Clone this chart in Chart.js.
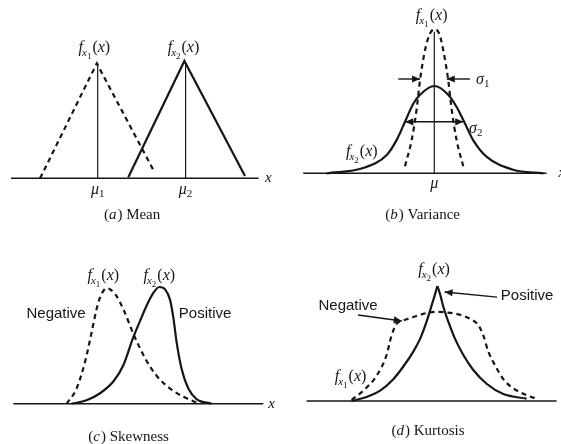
<!DOCTYPE html>
<html>
<head>
<meta charset="utf-8">
<script src="https://cdn.jsdelivr.net/npm/chart.js@4.4.1/dist/chart.umd.min.js"></script>
<style>
  html, body { margin: 0; padding: 0; background: #fff; }
  #wrap { position: relative; width: 561px; height: 444px; overflow: hidden; }
  #wrap canvas { position: absolute; }
</style>
</head>
<body>
<div id="wrap">
  <canvas id="pa" width="280" height="222" style="left:0px;top:0px"></canvas>
  <canvas id="pb" width="281" height="222" style="left:280px;top:0px"></canvas>
  <canvas id="pc" width="280" height="222" style="left:0px;top:222px"></canvas>
  <canvas id="pd" width="281" height="222" style="left:280px;top:222px"></canvas>
</div>
<script>
// ── (a) Mean : deux densités triangulaires ───────────────────────────────────
const meanX1 = [0.08, 1.97, 3.86];
const meanY1 = [0, 1.0, 0.07];
const meanX2 = [3.02, 4.89, 6.91];
const meanY2 = [0.01, 1.02, 0.02];
const meanMu  = [2.0, 4.93];
const meanTop = [1.0, 0.99];
const meanAxis = [-0.89, 7.36];

// ── (b) Variance ─────────────────────────────────────────────────────────────
const varNarrowX = [-1.01, -0.78, -0.61, -0.49, -0.32, -0.15, 0, 0.17, 0.31, 0.48, 0.6, 0.77, 1.0];
const varNarrowY = [0.08, 0.38, 0.73, 1.07, 1.41, 1.6, 1.65, 1.6, 1.41, 1.07, 0.73, 0.38, 0.08];
const varWideX = [-3.71, -2.45, -1.64, -1.30, -1.01, -0.72, -0.49, 0, 0.48, 0.77, 1.03, 1.34, 1.80, 2.72, 3.76];
const varWideY = [0, 0.06, 0.21, 0.38, 0.59, 0.80, 0.90, 1.0, 0.90, 0.76, 0.59, 0.38, 0.19, 0.04, 0];
const varStem = 1.62;
const varAxis = [-4.52, 3.87];

// ── (c) Skewness ─────────────────────────────────────────────────────────────
const skewNegX = [2.13, 2.53, 2.87, 3.13, 3.33, 3.47, 3.73, 4.07, 4.4, 4.8, 5.27, 5.73, 6.27, 6.8, 7.33];
const skewNegY = [0, 0.13, 0.36, 0.61, 0.81, 0.91, 0.99, 0.94, 0.81, 0.6, 0.39, 0.24, 0.13, 0.06, 0.01];
const skewPosX = [2.33, 2.93, 3.47, 4.0, 4.4, 4.8, 5.07, 5.33, 5.6, 5.84, 6.07, 6.27, 6.4, 6.53, 6.73, 7.0, 7.33, 7.93];
const skewPosY = [0, 0.03, 0.09, 0.19, 0.33, 0.57, 0.71, 0.84, 0.95, 1.0, 0.98, 0.89, 0.74, 0.53, 0.3, 0.13, 0.04, 0];
const skewAxis = [0, 10.0];

// ── (d) Kurtosis ─────────────────────────────────────────────────────────────
const kurtPosX = [-3.43, -2.83, -2.29, -1.76, -1.36, -0.96, -0.69, -0.43, -0.23, -0.09, 0, 0.11, 0.24, 0.44, 0.71, 1.04, 1.44, 1.97, 2.64, 3.57];
const kurtPosY = [0, 0.035, 0.09, 0.19, 0.3, 0.43, 0.54, 0.69, 0.83, 0.93, 1.0, 0.93, 0.82, 0.69, 0.54, 0.4, 0.27, 0.15, 0.06, 0.02];
const kurtNegX = [-3.43, -2.96, -2.43, -2.03, -1.83, -1.63, -1.36, -0.96, -0.43, -0.03, 0.37, 0.91, 1.31, 1.64, 1.84, 2.04, 2.31, 2.64, 3.04, 3.57, 3.97];
const kurtNegY = [0.01, 0.09, 0.22, 0.4, 0.57, 0.67, 0.7, 0.73, 0.765, 0.775, 0.77, 0.75, 0.715, 0.66, 0.57, 0.43, 0.31, 0.19, 0.11, 0.05, 0.02];
const kurtAxis = [-5.23, 4.77];

// ── Style ────────────────────────────────────────────────────────────────────
const INK   = '#161616';
const SERIF = '"Liberation Serif", "Times New Roman", serif';
const SANS  = '"Liberation Sans", Arial, sans-serif';

const pts = (xs, ys) => xs.map((x, i) => ({ x, y: ys[i] }));

function solid(data, smooth, w) {
  return { data, borderColor: INK, borderWidth: w || 2.2, pointRadius: 0, tension: 0,
           cubicInterpolationMode: smooth ? 'monotone' : 'default' };
}
function dashed(data, smooth) {
  return Object.assign(solid(data, smooth, 2.2), { borderDash: [5, 4] });
}
function axisLine(range) {
  return solid([{ x: range[0], y: 0 }, { x: range[1], y: 0 }], false, 1.4);
}
function stem(x, top) {
  return solid([{ x, y: 0 }, { x, y: top }], false, 1.2);
}

// ── Texte riche (indices, italiques) ─────────────────────────────────────────
function rich(ctx, segs, px, py, align) {
  let w = 0;
  segs.forEach(s => { ctx.font = s[1]; w += ctx.measureText(s[0]).width; });
  let x = align === 'left' ? px : px - w / 2;
  segs.forEach(s => {
    ctx.font = s[1];
    ctx.fillText(s[0], x, py + 5 + (s[2] || 0));
    x += ctx.measureText(s[0]).width + (s[3] || 0);
  });
}

function arrowHead(ctx, x0, y0, x1, y1) {
  const a = Math.atan2(y1 - y0, x1 - x0), L = 8, H = 3.6;
  ctx.beginPath();
  ctx.moveTo(x1, y1);
  ctx.lineTo(x1 - L * Math.cos(a) + H * Math.sin(a), y1 - L * Math.sin(a) - H * Math.cos(a));
  ctx.lineTo(x1 - L * Math.cos(a) - H * Math.sin(a), y1 - L * Math.sin(a) + H * Math.cos(a));
  ctx.closePath();
  ctx.fill();
}

const notesPlugin = {
  id: 'notes',
  afterDatasetsDraw(chart, args, opts) {
    const { ctx } = chart;
    const sx = v => chart.scales.x.getPixelForValue(v);
    const sy = v => chart.scales.y.getPixelForValue(v);
    ctx.save();
    ctx.fillStyle = INK;
    ctx.strokeStyle = INK;
    ctx.textBaseline = 'alphabetic';
    (opts.notes || []).forEach(n => {
      const px = sx(n.x), py = sy(n.y);
      if (n.kind === 'f') {
        rich(ctx, [
          ['f', `italic 16px ${SERIF}`, 0, -1],
          ['x', `italic 11px ${SERIF}`, 4],
          [n.sub, `9px ${SERIF}`, 7, 1],
          ['(', `16px ${SERIF}`, 0],
          ['x', `italic 16px ${SERIF}`, 0],
          [')', `16px ${SERIF}`, 0],
        ], px, py);
      } else if (n.kind === 'greek') {
        const segs = [[n.sym, `italic 16px ${SERIF}`, 0]];
        if (n.sub) segs.push([n.sub, `11px ${SERIF}`, 3]);
        rich(ctx, segs, px, py, n.align);
      } else if (n.kind === 'xlabel') {
        rich(ctx, [['x', `italic 15px ${SERIF}`, 0]], px, py, 'left');
      } else if (n.kind === 'sans') {
        rich(ctx, [[n.text, `15px ${SANS}`, 0]], px, py);
      } else if (n.kind === 'caption') {
        rich(ctx, [
          ['(', `15px ${SERIF}`, 0],
          [n.letter, `italic 15px ${SERIF}`, 0, 1],
          [') ' + n.word, `15px ${SERIF}`, 0],
        ], px, py);
      } else if (n.kind === 'arrow') {
        const x0 = sx(n.from[0]), y0 = sy(n.from[1]);
        const x1 = sx(n.to[0]),   y1 = sy(n.to[1]);
        ctx.lineWidth = 1.4;
        ctx.beginPath(); ctx.moveTo(x0, y0); ctx.lineTo(x1, y1); ctx.stroke();
        arrowHead(ctx, x0, y0, x1, y1);
        if (n.both) arrowHead(ctx, x1, y1, x0, y0);
      }
    });
    ctx.restore();
  },
};

function panel(id, datasets, xr, yr, notes) {
  return new Chart(document.getElementById(id), {
    type: 'line',
    data: { datasets },
    options: {
      responsive: false,
      animation: false,
      events: [],
      layout: { padding: 0 },
      scales: {
        x: { type: 'linear', min: xr[0], max: xr[1], display: false },
        y: { type: 'linear', min: yr[0], max: yr[1], display: false },
      },
      plugins: { legend: { display: false }, tooltip: { enabled: false }, notes: { notes } },
    },
    plugins: [notesPlugin],
  });
}

// ── (a) ──────────────────────────────────────────────────────────────────────
panel('pa', [
  axisLine(meanAxis),
  dashed(pts(meanX1, meanY1), false),
  solid(pts(meanX2, meanY2), false),
  stem(meanMu[0], meanTop[0]),
  stem(meanMu[1], meanTop[1]),
], [-1.256, 8.077], [-0.38, 1.551], [
  { kind: 'f', sub: '1', x: 1.89, y: 1.14 },
  { kind: 'f', sub: '2', x: 4.86, y: 1.14 },
  { kind: 'greek', sym: 'μ', sub: '1', x: meanMu[0], y: -0.096 },
  { kind: 'greek', sym: 'μ', sub: '2', x: meanMu[1], y: -0.096 },
  { kind: 'xlabel', x: 7.58, y: 0.01 },
  { kind: 'caption', letter: 'a', word: 'Mean', x: 3.13, y: -0.31 },
]);

// ── (b) ──────────────────────────────────────────────────────────────────────
panel('pb', [
  axisLine(varAxis),
  dashed(pts(varNarrowX, varNarrowY), true),
  solid(pts(varWideX, varWideY), true),
  stem(0, varStem),
], [-5.32, 4.37], [-0.558, 1.985], [
  { kind: 'f', sub: '1', x: -0.09, y: 1.81 },
  { kind: 'f', sub: '2', x: -2.5, y: 0.25 },
  { kind: 'greek', sym: 'μ', x: 0, y: -0.11 },
  { kind: 'xlabel', x: 4.28, y: 0.01 },
  { kind: 'arrow', from: [-1.24, 1.08], to: [-0.49, 1.08] },
  { kind: 'arrow', from: [1.23, 1.08], to: [0.43, 1.08] },
  { kind: 'greek', sym: 'σ', sub: '1', x: 1.44, y: 1.08, align: 'left' },
  { kind: 'arrow', from: [-1.0, 0.59], to: [1.0, 0.59], both: true },
  { kind: 'greek', sym: 'σ', sub: '2', x: 1.2, y: 0.52, align: 'left' },
  { kind: 'caption', letter: 'b', word: 'Variance', x: -0.42, y: -0.466 },
]);

// ── (c) ──────────────────────────────────────────────────────────────────────
panel('pc', [
  axisLine(skewAxis),
  dashed(pts(skewNegX, skewNegY), true),
  solid(pts(skewPosX, skewPosY), true),
], [-0.533, 10.667], [-0.345, 1.557], [
  { kind: 'f', sub: '1', x: 3.6, y: 1.10 },
  { kind: 'f', sub: '2', x: 5.84, y: 1.10 },
  { kind: 'sans', text: 'Negative', x: 1.71, y: 0.777 },
  { kind: 'sans', text: 'Positive', x: 7.67, y: 0.78 },
  { kind: 'xlabel', x: 10.2, y: 0.01 },
  { kind: 'caption', letter: 'c', word: 'Skewness', x: 4.59, y: -0.277 },
]);

// ── (d) : pic pointu -> deux moitiés monotones ───────────────────────────────
const kPeak = kurtPosY.indexOf(Math.max(...kurtPosY));
panel('pd', [
  axisLine(kurtAxis),
  dashed(pts(kurtNegX, kurtNegY), true),
  solid(pts(kurtPosX.slice(0, kPeak + 1), kurtPosY.slice(0, kPeak + 1)), true),
  solid(pts(kurtPosX.slice(kPeak), kurtPosY.slice(kPeak)), true),
], [-6.293, 4.947], [-0.374, 1.557], [
  { kind: 'f', sub: '2', x: -0.13, y: 1.148 },
  { kind: 'f', sub: '1', x: -3.47, y: 0.217 },
  { kind: 'sans', text: 'Positive', x: 3.59, y: 0.92 },
  { kind: 'arrow', from: [2.39, 0.904], to: [0.29, 0.948] },
  { kind: 'sans', text: 'Negative', x: -3.57, y: 0.835 },
  { kind: 'arrow', from: [-3.17, 0.748], to: [-1.42, 0.696] },
  { kind: 'caption', letter: 'd', word: 'Kurtosis', x: -0.39, y: -0.252 },
]);
</script>
</body>
</html>
